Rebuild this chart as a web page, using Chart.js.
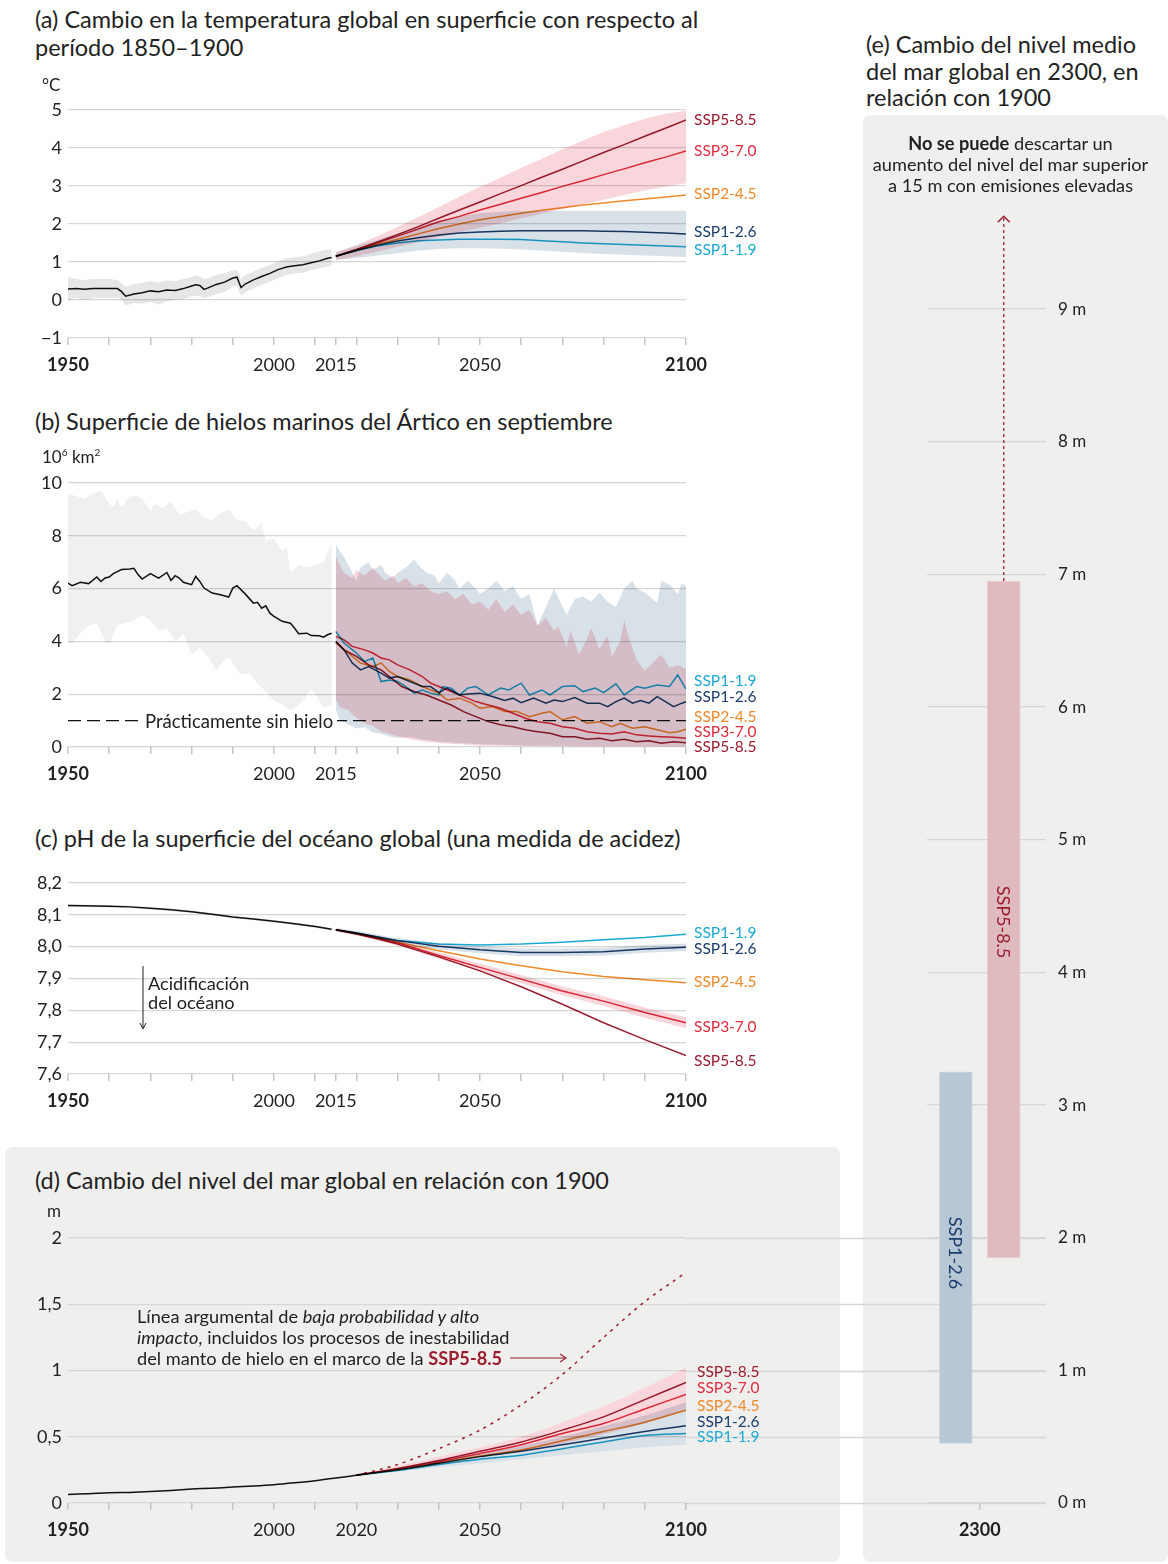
<!DOCTYPE html>
<html lang="es">
<head>
<meta charset="utf-8">
<title>Cambio climático: proyecciones SSP</title>
<script src="https://cdn.jsdelivr.net/npm/chart.js@4.4.1/dist/chart.umd.min.js"></script>
<style>
  body { margin:0; width:1168px; height:1564px; position:relative; background:#fff;
         font-family:Lato, 'Noto Sans', sans-serif; color:#222; overflow:hidden; }
  .abs { position:absolute; white-space:nowrap; z-index:3; }
  .title { font-size:23.5px; line-height:28px; }
  .unit { font-size:17px; line-height:18px; }
  .lab { font-size:15.5px; line-height:15px; }
  .box { position:absolute; background:#efefee; border-radius:8px; z-index:0; }
  canvas { position:absolute; z-index:1; }
  #cE { z-index:2; }
</style>
</head>
<body>

<div class="box" style="left:5px;top:1147px;width:835px;height:415px"></div>
<div class="box" style="left:863px;top:115px;width:305px;height:1447px"></div>

<canvas id="cA" width="780" height="298" style="left:0;top:90px"></canvas>
<canvas id="cB" width="780" height="327" style="left:0;top:465px"></canvas>
<canvas id="cC" width="780" height="256" style="left:0;top:863px"></canvas>
<canvas id="cD" width="1060" height="330" style="left:0;top:1218px"></canvas>
<canvas id="cE" width="268" height="1368" style="left:900px;top:180px"></canvas>

<!-- (a) -->
<div class="abs title" style="left:35px;top:5px">(a) Cambio en la temperatura global en superficie con respecto al<br>período 1850–1900</div>
<div class="abs unit" style="left:42px;top:76px">°C</div>
<div class="abs lab" style="left:694px;top:112px;color:#9b1c2f">SSP5-8.5</div>
<div class="abs lab" style="left:694px;top:143px;color:#e12a3c">SSP3-7.0</div>
<div class="abs lab" style="left:694px;top:186px;color:#ee8a2a">SSP2-4.5</div>
<div class="abs lab" style="left:694px;top:224px;color:#1b3d6c">SSP1-2.6</div>
<div class="abs lab" style="left:694px;top:242px;color:#1ba9d3">SSP1-1.9</div>

<!-- (b) -->
<div class="abs title" style="left:35px;top:407px">(b) Superficie de hielos marinos del Ártico en septiembre</div>
<div class="abs unit" style="left:42px;top:443px">10<sup style="font-size:10px">6</sup> km<sup style="font-size:10px">2</sup></div>
<div class="abs" style="left:141px;top:711px;font-size:18.5px;line-height:21px;background:#fff;padding:0 4px">Prácticamente sin hielo</div>
<div class="abs lab" style="left:694px;top:673px;color:#1ba9d3">SSP1-1.9</div>
<div class="abs lab" style="left:694px;top:689px;color:#1b3d6c">SSP1-2.6</div>
<div class="abs lab" style="left:694px;top:709px;color:#ee8a2a">SSP2-4.5</div>
<div class="abs lab" style="left:694px;top:724px;color:#e12a3c">SSP3-7.0</div>
<div class="abs lab" style="left:694px;top:739px;color:#9b1c2f">SSP5-8.5</div>

<!-- (c) -->
<div class="abs title" style="left:35px;top:824px">(c) pH de la superficie del océano global (una medida de acidez)</div>
<div class="abs" style="left:148px;top:974px;font-size:18.2px;line-height:19px">Acidificación<br>del océano</div>
<svg class="abs" style="left:137px;top:964px" width="12" height="68">
  <line x1="6" y1="2" x2="6" y2="64" stroke="#222" stroke-width="1"/>
  <polyline points="3,59 6,65 9,59" fill="none" stroke="#222" stroke-width="1"/>
</svg>
<div class="abs lab" style="left:694px;top:925px;color:#1ba9d3">SSP1-1.9</div>
<div class="abs lab" style="left:694px;top:941px;color:#1b3d6c">SSP1-2.6</div>
<div class="abs lab" style="left:694px;top:974px;color:#ee8a2a">SSP2-4.5</div>
<div class="abs lab" style="left:694px;top:1019px;color:#e12a3c">SSP3-7.0</div>
<div class="abs lab" style="left:694px;top:1053px;color:#9b1c2f">SSP5-8.5</div>

<!-- (d) -->
<div class="abs title" style="left:35px;top:1166px">(d) Cambio del nivel del mar global en relación con 1900</div>
<div class="abs unit" style="left:47px;top:1202px">m</div>
<div class="abs" style="left:137px;top:1306px;font-size:18.2px;line-height:21px">Línea argumental de <i>baja probabilidad y alto</i><br><i>impacto</i>, incluidos los procesos de inestabilidad<br>del manto de hielo en el marco de la <b style="color:#9b1c2f">SSP5-8.5</b></div>
<svg class="abs" style="left:508px;top:1352px" width="62" height="12">
  <line x1="2" y1="6" x2="58" y2="6" stroke="#9b1c2f" stroke-width="1.2"/>
  <polyline points="52,2 58,6 52,10" fill="none" stroke="#9b1c2f" stroke-width="1.2"/>
</svg>
<div class="abs lab" style="left:697px;top:1364px;color:#9b1c2f">SSP5-8.5</div>
<div class="abs lab" style="left:697px;top:1380px;color:#e12a3c">SSP3-7.0</div>
<div class="abs lab" style="left:697px;top:1398px;color:#ee8a2a">SSP2-4.5</div>
<div class="abs lab" style="left:697px;top:1414px;color:#1b3d6c">SSP1-2.6</div>
<div class="abs lab" style="left:697px;top:1429px;color:#1ba9d3">SSP1-1.9</div>

<!-- (e) -->
<div class="abs title" style="left:866px;top:31px;line-height:26.5px">(e) Cambio del nivel medio<br>del mar global en 2300, en<br>relación con 1900</div>
<div class="abs" style="left:863px;width:295px;top:133px;text-align:center;font-size:18.2px;line-height:21px"><b>No se puede</b> descartar un<br>aumento del nivel del mar superior<br>a 15 m con emisiones elevadas</div>
<div class="abs" style="left:956px;top:1253px;transform:translate(-50%,-50%);writing-mode:vertical-rl;font-size:18px;color:#1b3d6c">SSP1-2.6</div>
<div class="abs" style="left:1004px;top:922px;transform:translate(-50%,-50%);writing-mode:vertical-rl;font-size:18px;color:#9b1c2f">SSP5-8.5</div>

<script>
'use strict';

var FONT = 'Lato';
var C = {
  ssp119: '#1ba9d3',
  ssp126: '#1b3d6c',
  ssp245: '#ee8a2a',
  ssp370: '#e12a3c',
  ssp585: '#9b1c2f',
  hist:   '#111111',
  blue:   '#d9e1e8',
  pink:   '#f9d6db',
  grey:   '#e6e6e6',
  greyB:  '#f0f0f0',
  grid:   '#d6d6d6',
  tick:   '#c6c6c6'
};

// ---- shared axis ticks ----
var yearTicksABC = [1950,1960,1970,1980,1990,2000,2010,2015,2020,2030,2040,2050,2060,2070,2080,2090,2100];
var yearLabelsABC = [1950,2000,2015,2050,2100];
var yearTicksD = [1950,1960,1970,1980,1990,2000,2010,2020,2030,2040,2050,2060,2070,2080,2090,2100];
var yearLabelsD = [1950,2000,2020,2050,2100];
var boldYears = [1950,2100];

// ---- (a) temperature ----
var tempTicks = [-1,0,1,2,3,4,5];
var tempHistYears = [1950,1952,1954,1956,1958,1960,1962,1963,1964,1966,1968,1970,1972,1974,1976,1978,1980,1981,1982,1983,1984,1986,1988,1990,1991,1992,1993,1995,1997,1999,2001,2003,2005,2007,2009,2011,2013,2014];
var tempHist   = [0.29,0.30,0.28,0.30,0.30,0.30,0.30,0.22,0.10,0.16,0.19,0.24,0.22,0.26,0.25,0.30,0.37,0.40,0.38,0.28,0.32,0.41,0.47,0.58,0.60,0.33,0.42,0.53,0.62,0.70,0.80,0.87,0.90,0.93,0.98,1.03,1.10,1.12];
var tempHistHi = [0.60,0.55,0.52,0.56,0.55,0.56,0.52,0.45,0.35,0.42,0.45,0.50,0.46,0.52,0.50,0.55,0.60,0.65,0.62,0.55,0.58,0.66,0.70,0.78,0.80,0.55,0.65,0.75,0.85,0.92,1.02,1.10,1.13,1.15,1.22,1.28,1.32,1.33];
var tempHistLo = [-0.02,0.05,0.00,0.04,0.06,0.05,0.06,0.00,-0.15,-0.08,-0.10,-0.05,-0.12,-0.03,0.00,0.02,0.10,0.12,0.10,0.05,0.08,0.15,0.22,0.35,0.37,0.12,0.20,0.30,0.40,0.48,0.58,0.66,0.70,0.72,0.78,0.83,0.88,0.90];
var tempYears  = [2015,2020,2025,2030,2035,2040,2045,2050,2055,2060,2065,2070,2075,2080,2085,2090,2095,2100];
var tempSSP119 = [1.15,1.30,1.42,1.50,1.56,1.58,1.60,1.60,1.60,1.59,1.56,1.53,1.50,1.48,1.46,1.44,1.42,1.40];
var tempSSP126 = [1.15,1.30,1.44,1.55,1.64,1.71,1.76,1.79,1.81,1.82,1.82,1.82,1.82,1.81,1.80,1.78,1.76,1.74];
var tempSSP245 = [1.15,1.31,1.46,1.60,1.74,1.88,2.00,2.11,2.20,2.28,2.36,2.43,2.50,2.55,2.61,2.66,2.71,2.76];
var tempSSP370 = [1.15,1.32,1.50,1.68,1.87,2.06,2.20,2.37,2.52,2.68,2.83,2.99,3.14,3.30,3.45,3.61,3.76,3.92];
var tempSSP585 = [1.15,1.33,1.52,1.72,1.93,2.15,2.37,2.58,2.80,3.01,3.23,3.44,3.66,3.88,4.09,4.31,4.52,4.74];
var tempBand126Hi = [1.25,1.42,1.58,1.75,1.93,2.08,2.20,2.28,2.32,2.34,2.35,2.35,2.35,2.35,2.35,2.35,2.35,2.35];
var tempBand126Lo = [1.05,1.10,1.17,1.23,1.30,1.34,1.36,1.36,1.35,1.33,1.30,1.27,1.24,1.21,1.19,1.17,1.15,1.13];
var tempBand370Hi = [1.25,1.45,1.68,1.92,2.18,2.45,2.72,2.98,3.22,3.48,3.72,3.97,4.20,4.42,4.60,4.77,4.90,4.98];
var tempBand370Lo = [1.05,1.15,1.27,1.40,1.52,1.65,1.78,1.90,2.02,2.15,2.27,2.40,2.52,2.64,2.76,2.88,2.98,3.07];

// ---- (b) Arctic sea ice, September (10^6 km2) ----
var iceTicks = [0,2,4,6,8,10];
var iceHist = [[1950,6.21],[1951,6.11],[1953,6.24],[1955,6.19],[1957,6.44],[1958,6.27],[1959,6.40],[1960,6.44],[1961,6.57],[1963,6.72],[1965,6.74],[1966,6.77],[1967,6.53],[1968,6.36],[1970,6.57],[1972,6.40],[1974,6.61],[1975,6.31],[1976,6.49],[1977,6.40],[1978,6.24],[1980,6.15],[1981,6.46],[1982,6.27],[1983,6.02],[1985,5.83],[1987,5.77],[1989,5.68],[1990,6.02],[1991,6.11],[1993,5.80],[1995,5.45],[1996,5.48],[1997,5.26],[1998,5.35],[1999,5.07],[2000,4.95],[2002,4.76],[2004,4.69],[2005,4.50],[2006,4.29],[2008,4.31],[2009,4.22],[2011,4.21],[2012,4.16],[2013,4.25],[2014,4.31]];
var iceHistHi = [[1950,9.6],[1952,9.5],[1954,9.4],[1956,9.6],[1958,9.7],[1960,9.2],[1961,9.1],[1962,9.4],[1963,9.05],[1965,9.5],[1967,9.5],[1968,9.4],[1970,8.95],[1971,9.2],[1973,9.05],[1975,9.3],[1977,8.8],[1979,8.9],[1981,9.0],[1983,8.7],[1985,8.6],[1987,8.85],[1989,9.0],[1991,8.6],[1993,8.55],[1995,8.2],[1997,8.5],[1998,7.8],[2000,7.9],[2002,7.4],[2003,7.6],[2004,6.6],[2006,6.9],[2008,6.8],[2010,6.9],[2012,7.0],[2014,7.7]];
var iceHistLo = [[1950,4.0],[1951,3.9],[1953,4.3],[1955,4.6],[1957,4.7],[1959,4.0],[1960,3.9],[1962,4.6],[1964,4.7],[1966,4.8],[1968,5.0],[1970,4.8],[1972,4.4],[1974,4.5],[1976,4.0],[1978,4.3],[1980,3.5],[1982,3.75],[1984,3.4],[1986,2.9],[1988,3.3],[1989,3.4],[1991,2.9],[1992,2.75],[1994,2.8],[1996,2.4],[1998,2.1],[2000,1.75],[2002,1.6],[2004,1.38],[2006,1.6],[2007,1.75],[2009,2.2],[2010,2.0],[2012,1.5],[2014,1.6]];
var iceSSP119 = [[2015,4.38],[2017,3.94],[2020,3.56],[2022,3.24],[2024,3.37],[2026,2.48],[2028,2.54],[2030,2.48],[2032,2.29],[2034,2.04],[2036,2.16],[2038,2.04],[2040,1.97],[2041,2.29],[2043,2.23],[2045,1.97],[2047,2.23],[2049,2.29],[2052,1.97],[2055,2.23],[2057,2.16],[2060,2.42],[2062,1.97],[2065,2.16],[2067,1.97],[2070,2.29],[2073,2.32],[2075,2.10],[2078,2.23],[2080,2.06],[2083,2.39],[2085,1.97],[2088,2.29],[2090,2.23],[2093,2.35],[2096,2.29],[2098,2.73],[2100,2.19]];
var iceSSP126 = [[2015,4.00],[2017,3.68],[2019,3.18],[2021,2.92],[2023,3.05],[2026,2.80],[2028,2.61],[2030,2.67],[2033,2.48],[2036,2.29],[2038,2.29],[2040,2.06],[2042,2.23],[2045,1.97],[2047,2.01],[2050,2.04],[2053,1.91],[2056,1.76],[2058,1.85],[2060,1.68],[2063,1.85],[2066,1.66],[2068,1.78],[2070,1.72],[2073,1.87],[2076,1.66],[2079,1.66],[2081,1.53],[2083,1.72],[2085,1.85],[2087,1.66],[2089,1.76],[2091,1.66],[2093,1.91],[2095,1.72],[2097,1.53],[2099,1.66],[2100,1.72]];
var iceSSP245 = [[2015,3.94],[2018,3.56],[2021,3.18],[2024,3.05],[2026,3.18],[2028,2.86],[2030,2.67],[2033,2.54],[2036,2.29],[2038,2.16],[2040,2.04],[2042,1.78],[2045,1.85],[2048,1.66],[2050,1.47],[2053,1.53],[2056,1.34],[2059,1.34],[2062,1.15],[2065,1.28],[2067,1.34],[2070,1.03],[2073,1.15],[2076,0.90],[2079,0.96],[2082,0.77],[2084,0.90],[2087,0.71],[2090,0.77],[2093,0.65],[2096,0.54],[2098,0.58],[2100,0.67]];
var iceSSP370 = [[2015,4.19],[2017,4.06],[2019,3.81],[2022,3.68],[2024,3.56],[2026,3.37],[2028,3.30],[2030,3.11],[2033,2.92],[2036,2.67],[2038,2.42],[2040,2.29],[2043,2.10],[2046,1.91],[2049,1.72],[2052,1.59],[2055,1.47],[2058,1.28],[2061,1.09],[2064,0.96],[2067,0.90],[2070,0.77],[2073,0.71],[2076,0.58],[2079,0.52],[2082,0.49],[2085,0.58],[2088,0.46],[2091,0.42],[2094,0.39],[2097,0.37],[2100,0.33]];
var iceSSP585 = [[2015,4.00],[2017,3.68],[2020,3.43],[2023,3.11],[2026,2.92],[2029,2.54],[2031,2.29],[2034,2.10],[2037,1.97],[2040,1.78],[2043,1.59],[2046,1.34],[2049,1.15],[2052,0.96],[2055,0.84],[2058,0.77],[2061,0.65],[2064,0.58],[2067,0.52],[2070,0.39],[2073,0.39],[2076,0.29],[2079,0.33],[2082,0.24],[2085,0.29],[2088,0.20],[2091,0.24],[2094,0.14],[2097,0.20],[2100,0.16]];
var iceBand126Hi = [[2015,7.7],[2016,7.4],[2017,7.2],[2018,6.9],[2020,6.3],[2021,6.8],[2023,7.0],[2024,6.7],[2026,6.9],[2027,6.6],[2029,6.4],[2030,6.6],[2032,6.8],[2034,7.1],[2035,6.9],[2037,6.6],[2039,6.5],[2040,6.2],[2042,6.6],[2044,6.3],[2045,6.0],[2047,6.3],[2049,6.0],[2050,5.8],[2052,6.0],[2054,6.3],[2056,5.9],[2058,6.1],[2060,5.6],[2062,5.8],[2064,4.6],[2066,5.3],[2068,6.0],[2069,5.65],[2071,5.0],[2073,5.6],[2075,5.7],[2077,5.5],[2079,5.85],[2081,5.5],[2083,5.3],[2085,6.0],[2087,6.3],[2088,6.0],[2090,5.85],[2093,5.45],[2094,6.3],[2096,6.15],[2098,5.8],[2099,6.2],[2100,6.1]];
var iceBand126Lo = [[2015,1.4],[2016,1.0],[2018,0.85],[2020,0.7],[2022,0.75],[2024,0.55],[2026,0.5],[2028,0.4],[2030,0.35],[2033,0.38],[2035,0.3],[2038,0.25],[2040,0.2],[2045,0.15],[2050,0.1],[2060,0.06],[2080,0.04],[2100,0.03]];
var iceBand370Hi = [[2015,7.2],[2017,6.6],[2019,6.4],[2020,6.7],[2022,6.5],[2024,6.8],[2025,6.6],[2027,6.3],[2029,6.5],[2030,6.2],[2032,6.4],[2034,6.1],[2036,6.2],[2038,5.9],[2040,5.8],[2042,5.9],[2044,5.6],[2046,5.8],[2048,5.4],[2050,5.5],[2052,5.2],[2054,5.6],[2056,5.1],[2058,5.4],[2060,5.0],[2062,5.2],[2064,4.6],[2066,4.9],[2068,4.4],[2069,4.57],[2071,3.8],[2072,4.4],[2074,3.5],[2076,4.1],[2077,4.5],[2079,3.72],[2081,4.2],[2082,3.43],[2084,4.0],[2085,4.8],[2086,4.2],[2088,3.3],[2090,2.9],[2092,3.2],[2094,3.5],[2096,3.0],[2098,3.1],[2100,2.95]];
var iceBand370Lo = [[2015,1.8],[2016,1.5],[2018,1.4],[2020,1.1],[2022,0.9],[2024,0.8],[2026,0.6],[2028,0.5],[2030,0.4],[2033,0.3],[2036,0.22],[2040,0.15],[2045,0.1],[2050,0.06],[2060,0.04],[2080,0.02],[2100,0.02]];
var iceFreeLine = [[1950,1],[2100,1]];

// ---- (c) ocean surface pH ----
var phTicks = [7.6,7.7,7.8,7.9,8.0,8.1,8.2];
var phHistYears = [1950,1960,1965,1970,1975,1980,1985,1990,1995,2000,2005,2010,2014];
var phHist      = [8.129,8.127,8.125,8.121,8.116,8.110,8.102,8.093,8.087,8.080,8.072,8.063,8.055];
var phYears  = [2015,2020,2025,2030,2040,2050,2060,2070,2080,2090,2100];
var phSSP119 = [8.053,8.043,8.030,8.019,8.008,8.005,8.008,8.014,8.022,8.029,8.039];
var phSSP126 = [8.053,8.043,8.031,8.019,8.001,7.990,7.982,7.982,7.984,7.993,7.998];
var phSSP245 = [8.053,8.042,8.028,8.014,7.987,7.961,7.940,7.921,7.906,7.896,7.887];
var phSSP370 = [8.053,8.041,8.027,8.012,7.972,7.935,7.898,7.861,7.829,7.793,7.761];
var phSSP585 = [8.053,8.040,8.025,8.008,7.968,7.924,7.874,7.819,7.761,7.708,7.658];
var phBand126Hi = [8.058,8.049,8.038,8.027,8.011,8.001,7.994,7.994,7.996,8.005,8.010];
var phBand126Lo = [8.048,8.037,8.024,8.011,7.991,7.979,7.970,7.970,7.972,7.981,7.986];
var phBand370Hi = [8.058,8.047,8.034,8.020,7.982,7.947,7.911,7.875,7.844,7.809,7.778];
var phBand370Lo = [8.048,8.035,8.020,8.004,7.962,7.923,7.885,7.847,7.814,7.777,7.744];

// ---- (d) global mean sea level (m) ----
var slTicks = [0,0.5,1,1.5,2];
var slHistYears = [1950,1955,1960,1965,1970,1975,1980,1985,1990,1995,2000,2005,2010,2015,2020];
var slHist      = [0.065,0.070,0.078,0.080,0.086,0.095,0.105,0.112,0.120,0.128,0.138,0.152,0.168,0.188,0.210];
var slYears  = [2020,2030,2040,2050,2060,2070,2080,2090,2100];
var slSSP119 = [0.21,0.245,0.29,0.33,0.36,0.41,0.46,0.51,0.525];
var slSSP126 = [0.21,0.25,0.30,0.35,0.39,0.44,0.49,0.54,0.583];
var slSSP245 = [0.21,0.25,0.30,0.354,0.40,0.47,0.54,0.61,0.70];
var slSSP370 = [0.21,0.256,0.31,0.374,0.44,0.525,0.60,0.71,0.82];
var slSSP585 = [0.21,0.26,0.32,0.39,0.46,0.55,0.65,0.78,0.91];
var slLowProb = [0.21,0.29,0.41,0.55,0.74,0.97,1.25,1.52,1.74];
var slBand126Hi = [0.21,0.26,0.32,0.37,0.43,0.50,0.58,0.66,0.76];
var slBand126Lo = [0.21,0.235,0.27,0.30,0.33,0.36,0.39,0.42,0.44];
var slBand585Hi = [0.21,0.28,0.35,0.42,0.50,0.61,0.73,0.87,1.02];
var slBand585Lo = [0.21,0.245,0.29,0.34,0.39,0.45,0.52,0.60,0.70];

// ---- (e) sea level in 2300 (m) ----
var sl2300Ticks = [0,1,2,3,4,5,6,7,8,9];
var sl2300Scen = ['SSP1-2.6','SSP5-8.5'];
var sl2300Low  = [0.45,1.85];
var sl2300High = [3.25,6.95];
var sl2300Arrow = 9.7;   // dashed arrow: rise beyond 15 m not ruled out

// ---------- helpers ----------
function xy(xs, ys) { return xs.map(function (x, i) { return { x: x, y: ys[i] }; }); }
function pairs(p) { return p.map(function (d) { return { x: d[0], y: d[1] }; }); }

function line(data, color, width, extra) {
  var ds = { data: data, borderColor: color, borderWidth: width || 1.5, pointRadius: 0, fill: false };
  for (var k in extra || {}) ds[k] = extra[k];
  return ds;
}
function band(hi, lo, color) {
  return [
    { data: hi, borderColor: 'transparent', borderWidth: 0, pointRadius: 0, backgroundColor: color, fill: '+1' },
    { data: lo, borderColor: 'transparent', borderWidth: 0, pointRadius: 0, fill: false }
  ];
}

// bands are blended like ink so overlaps turn mauve
var multiplyPlugin = {
  id: 'multiply',
  beforeDraw: function (chart) { chart.ctx.globalCompositeOperation = 'multiply'; },
  afterDraw: function (chart) { chart.ctx.globalCompositeOperation = 'source-over'; }
};

function yearAxis(ticks, labels, height) {
  return {
    type: 'linear', min: 1950, max: 2100,
    afterBuildTicks: function (s) { s.ticks = ticks.map(function (v) { return { value: v }; }); },
    afterFit: function (s) { s.height = height; },
    grid: { drawOnChartArea: false, drawTicks: true, tickLength: 7, color: C.tick, lineWidth: 1.5 },
    border: { display: false },
    ticks: {
      autoSkip: false, maxRotation: 0, padding: 9, color: '#222',
      font: function (ctx) {
        var v = ctx.tick ? ctx.tick.value : null;
        return { family: FONT, size: 18, weight: boldYears.indexOf(v) >= 0 ? 'bold' : 'normal' };
      },
      callback: function (v) { return labels.indexOf(v) >= 0 ? String(v) : ''; }
    }
  };
}
function valueAxis(ticks, fmt, width) {
  return {
    type: 'linear', min: ticks[0], max: ticks[ticks.length - 1],
    afterBuildTicks: function (s) { s.ticks = ticks.map(function (v) { return { value: v }; }); },
    afterFit: function (s) { s.width = width; },
    grid: { color: C.grid, lineWidth: 1.3, drawTicks: false },
    border: { display: false },
    ticks: { padding: 6, color: '#222', font: { family: FONT, size: 18 }, callback: fmt }
  };
}
function baseOptions(padding, xAxis, yAxis) {
  return {
    responsive: false, animation: false, events: [],
    layout: { padding: padding },
    plugins: { legend: { display: false }, tooltip: { enabled: false } },
    elements: { point: { radius: 0 }, line: { tension: 0 } },
    scales: { x: xAxis, y: yAxis }
  };
}
function mkChart(id, datasets, options, plugins) {
  return new Chart(document.getElementById(id), {
    type: 'line',
    data: { datasets: datasets },
    options: options,
    plugins: [multiplyPlugin].concat(plugins || [])
  });
}

var minus = function (v) { return v < 0 ? '\u2212' + Math.abs(v) : String(v); };
var comma = function (v) { return v.toFixed(1).replace('.', ','); };
var commaShort = function (v) { return String(v).replace('.', ','); };

function draw() {
  // (a)
  mkChart('cA',
    [
      line(xy(tempYears, tempSSP585), C.ssp585),
      line(xy(tempYears, tempSSP370), C.ssp370),
      line(xy(tempYears, tempSSP245), C.ssp245),
      line(xy(tempYears, tempSSP126), C.ssp126),
      line(xy(tempYears, tempSSP119), C.ssp119),
      line(xy(tempHistYears, tempHist), C.hist)
    ]
    .concat(band(xy(tempYears, tempBand370Hi), xy(tempYears, tempBand370Lo), C.pink))
    .concat(band(xy(tempYears, tempBand126Hi), xy(tempYears, tempBand126Lo), C.blue))
    .concat(band(xy(tempHistYears, tempHistHi), xy(tempHistYears, tempHistLo), C.grey)),
    baseOptions({ left: 0, right: 94, top: 20, bottom: 0 },
      yearAxis(yearTicksABC, yearLabelsABC, 50),
      valueAxis(tempTicks, minus, 68))
  );

  // (b)
  mkChart('cB',
    [
      line(pairs(iceSSP585), C.ssp585),
      line(pairs(iceSSP370), C.ssp370),
      line(pairs(iceSSP245), C.ssp245),
      line(pairs(iceSSP126), C.ssp126),
      line(pairs(iceSSP119), C.ssp119),
      line(pairs(iceHist), C.hist),
      line(pairs(iceFreeLine), '#111', 1.2, { borderDash: [13, 6] })
    ]
    .concat(band(pairs(iceBand370Hi), pairs(iceBand370Lo), C.pink))
    .concat(band(pairs(iceBand126Hi), pairs(iceBand126Lo), C.blue))
    .concat(band(pairs(iceHistHi), pairs(iceHistLo), C.greyB)),
    baseOptions({ left: 0, right: 94, top: 18, bottom: 0 },
      yearAxis(yearTicksABC, yearLabelsABC, 45),
      valueAxis(iceTicks, String, 68))
  );

  // (c)
  mkChart('cC',
    [
      line(xy(phYears, phSSP585), C.ssp585),
      line(xy(phYears, phSSP370), C.ssp370),
      line(xy(phYears, phSSP245), C.ssp245),
      line(xy(phYears, phSSP126), C.ssp126),
      line(xy(phYears, phSSP119), C.ssp119),
      line(xy(phHistYears, phHist), C.hist)
    ]
    .concat(band(xy(phYears, phBand370Hi), xy(phYears, phBand370Lo), C.pink))
    .concat(band(xy(phYears, phBand126Hi), xy(phYears, phBand126Lo), C.blue))
    .concat(band(xy(phHistYears, phHist.map(function (v) { return v + 0.004; })),
                 xy(phHistYears, phHist.map(function (v) { return v - 0.004; })), C.grey)),
    baseOptions({ left: 0, right: 94, top: 20, bottom: 0 },
      yearAxis(yearTicksABC, yearLabelsABC, 45),
      valueAxis(phTicks, comma, 68))
  );

  // (d) gridlines run on to the 2300 panel
  var extendGrid = {
    id: 'extendGrid',
    beforeDatasetsDraw: function (chart) {
      var ctx = chart.ctx, y = chart.scales.y, a = chart.chartArea;
      ctx.save();
      ctx.strokeStyle = C.grid; ctx.lineWidth = 1.3;
      y.ticks.forEach(function (t) {
        var py = Math.round(y.getPixelForValue(t.value)) + 0.5;
        ctx.beginPath(); ctx.moveTo(a.right, py); ctx.lineTo(1046, py); ctx.stroke();
      });
      ctx.restore();
    }
  };
  var optD = baseOptions({ left: 0, right: 374, top: 20, bottom: 0 },
    yearAxis(yearTicksD, yearLabelsD, 45),
    valueAxis(slTicks, commaShort, 68));
  optD.elements.line.tension = 0.3;
  mkChart('cD',
    [
      line(xy(slYears, slLowProb), C.ssp585, 1.5, { borderDash: [3, 5] }),
      line(xy(slYears, slSSP585), C.ssp585),
      line(xy(slYears, slSSP370), C.ssp370),
      line(xy(slYears, slSSP245), C.ssp245),
      line(xy(slYears, slSSP126), C.ssp126),
      line(xy(slYears, slSSP119), C.ssp119),
      line(xy(slHistYears, slHist), C.hist)
    ]
    .concat(band(xy(slYears, slBand585Hi), xy(slYears, slBand585Lo), C.pink))
    .concat(band(xy(slYears, slBand126Hi), xy(slYears, slBand126Lo), C.blue)),
    optD, [extendGrid]
  );

  // (e)
  var arrowHead = {
    id: 'arrowHead',
    afterDatasetsDraw: function (chart) {
      var pts = chart.getDatasetMeta(0).data;
      var p = pts[pts.length - 1];
      var ctx = chart.ctx;
      ctx.save();
      ctx.strokeStyle = C.ssp585; ctx.lineWidth = 1.4;
      ctx.beginPath();
      ctx.moveTo(p.x - 6, p.y + 6); ctx.lineTo(p.x, p.y); ctx.lineTo(p.x + 6, p.y + 6);
      ctx.stroke();
      ctx.restore();
    }
  };
  new Chart(document.getElementById('cE'), {
    type: 'bar',
    data: {
      datasets: [
        { type: 'line', data: [{ x: 1, y: sl2300High[1] }, { x: 1, y: sl2300Arrow }],
          borderColor: C.ssp585, borderWidth: 1.3, borderDash: [3, 3], pointRadius: 0 },
        { type: 'bar',
          data: sl2300Scen.map(function (s, i) { return { x: i, y: [sl2300Low[i], sl2300High[i]] }; }),
          backgroundColor: ['#b7c7d5', '#dfbabe'], borderColor: ['#cdd8e1', '#e8cfd1'],
          borderWidth: 1, borderSkipped: false, barThickness: 33 }
      ]
    },
    options: {
      responsive: false, animation: false, events: [],
      layout: { padding: { left: 27, right: 0, top: 23, bottom: 0 } },
      plugins: { legend: { display: false }, tooltip: { enabled: false } },
      scales: {
        x: {
          type: 'linear', min: -0.6, max: 1.88, offset: false,
          afterBuildTicks: function (s) { s.ticks = [{ value: 0.5 }]; },
          afterFit: function (s) { s.height = 45; },
          grid: { drawOnChartArea: false, drawTicks: true, tickLength: 7, color: C.tick, lineWidth: 1.5, offset: false },
          border: { display: false },
          ticks: { padding: 9, color: '#222', font: { family: FONT, size: 18, weight: 'bold' },
                   callback: function () { return '2300'; } }
        },
        y: {
          type: 'linear', position: 'right', min: 0, max: 9.8,
          afterBuildTicks: function (s) { s.ticks = sl2300Ticks.map(function (v) { return { value: v }; }); },
          afterFit: function (s) { s.width = 122; },
          grid: { color: C.grid, lineWidth: 1.3, drawTicks: false },
          border: { display: false },
          ticks: { padding: 12, color: '#222', font: { family: FONT, size: 17 },
                   callback: function (v) { return v + ' m'; } }
        }
      }
    },
    plugins: [arrowHead]
  });
}

if (document.fonts && document.fonts.load) {
  document.fonts.load('18px Lato').then(draw, draw);
} else {
  draw();
}
</script>
</body>
</html>
